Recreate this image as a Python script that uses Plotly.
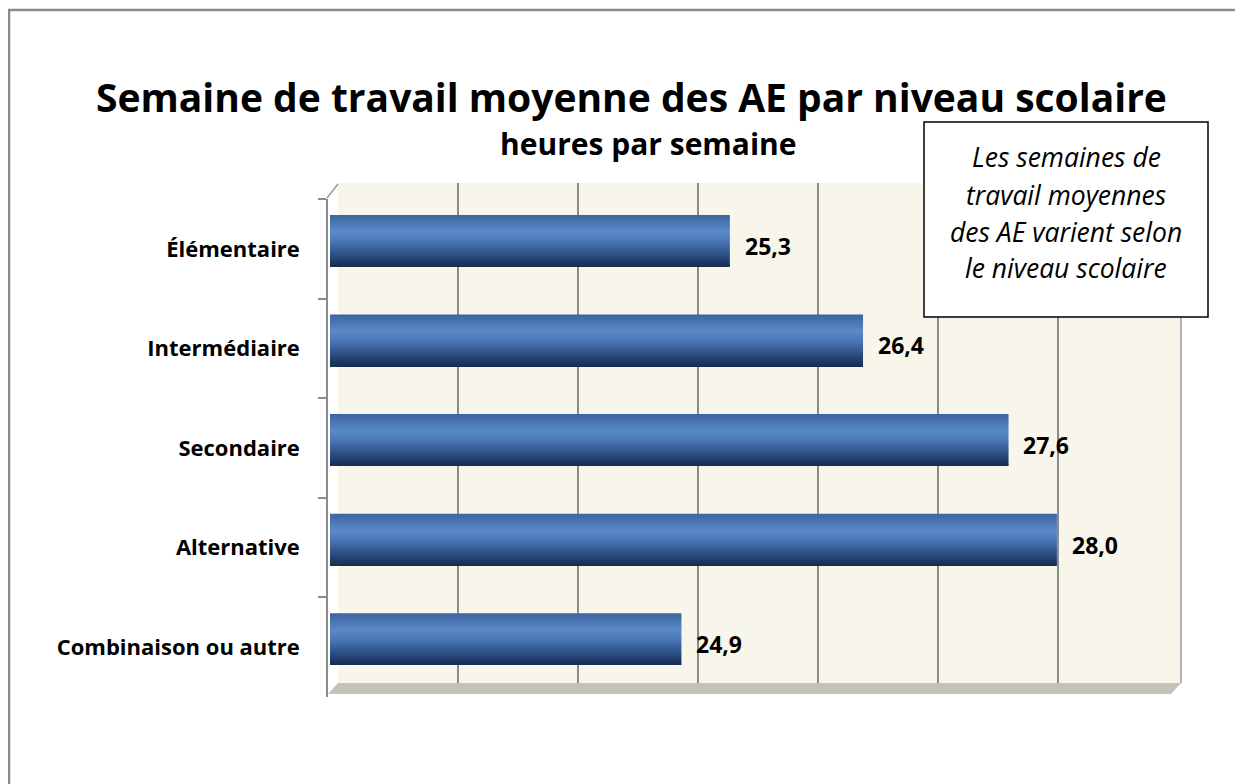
import plotly.graph_objects as go

# ---- data ----
categories = ["Élémentaire", "Intermédiaire", "Secondaire", "Alternative", "Combinaison ou autre"]
values = [25.3, 26.4, 27.6, 28.0, 24.9]
x_range = [22, 29]
title = "Semaine de travail moyenne des AE par niveau scolaire"
subtitle = "heures par semaine"
note_lines = ["Les semaines de", "travail moyennes", "des AE varient selon", "le niveau scolaire"]

# ---- style ----
W, H = 1243, 784
OFF = 8  # default page margin of the html body
FONT = "Open Sans"


def px(x):
    return (x - OFF) / W


def py(y):
    return 1 - (y - OFF) / H


stops = [
    (0.00, (60, 100, 158)),
    (0.12, (72, 114, 174)),
    (0.32, (90, 138, 200)),
    (0.50, (76, 120, 182)),
    (0.72, (50, 86, 142)),
    (0.88, (34, 62, 108)),
    (1.00, (24, 44, 80)),
]


def interp(t):
    for (t0, c0), (t1, c1) in zip(stops[:-1], stops[1:]):
        if t0 <= t <= t1:
            f = (t - t0) / (t1 - t0)
            c = [round(a + (b - a) * f) for a, b in zip(c0, c1)]
            return f"rgb({c[0]},{c[1]},{c[2]})"
    c = stops[-1][1]
    return f"rgb({c[0]},{c[1]},{c[2]})"


fig = go.Figure()

# grid (back wall) subplot
fig.add_trace(go.Scatter(x=[None], y=[None], xaxis="x", yaxis="y",
                         showlegend=False, hoverinfo="skip"))

# cylinder-like bars built from thin overlaid strips
N = 40
bar_w = 0.52
for i in range(N):
    t = (i + 0.5) / N
    fig.add_trace(go.Bar(
        x=values, y=categories, orientation="h",
        xaxis="x2", yaxis="y2",
        width=bar_w / N * 1.6 if i < N - 1 else bar_w / N,
        offset=-bar_w / 2 + i * bar_w / N,
        marker=dict(color=interp(t), line=dict(width=0)),
        showlegend=False, hoverinfo="skip",
    ))

# category axis (front edge of the 3-D box, slightly lower than the bars)
fig.add_trace(go.Scatter(x=[None] * len(categories), y=categories, xaxis="x2", yaxis="y3",
                         mode="markers", marker=dict(opacity=0),
                         showlegend=False, hoverinfo="skip"))

annotations = []
for cat, v in zip(categories, values):
    annotations.append(dict(
        x=v, y=cat, xref="x2", yref="y2",
        text=f"{v:.1f}".replace(".", ","),
        xanchor="left", yanchor="middle", xshift=13, yshift=-5,
        showarrow=False,
        font=dict(family=FONT, size=23, color="black", weight=700),
    ))

annotations.append(dict(
    x=px(631), y=py(96), xref="paper", yref="paper", text=title,
    showarrow=False, xanchor="center", yanchor="middle",
    font=dict(family=FONT, size=39, color="black", weight=700),
))
annotations.append(dict(
    x=px(648), y=py(143), xref="paper", yref="paper", text=subtitle,
    showarrow=False, xanchor="center", yanchor="middle",
    font=dict(family=FONT, size=30, color="black", weight=700),
))
for line, yy in zip(note_lines, [157, 195, 232, 268]):
    annotations.append(dict(
        x=px(1066), y=py(yy), xref="paper", yref="paper", text=line,
        showarrow=False, xanchor="center", yanchor="middle",
        font=dict(family=FONT, size=26.5, color="black", style="italic"),
    ))

shapes = [
    # back wall
    dict(type="rect", xref="paper", yref="paper", x0=px(338), x1=px(1181),
         y0=py(683), y1=py(183), fillcolor="#f8f6ea", line=dict(width=0), layer="below"),
    # floor
    dict(type="path", xref="paper", yref="paper",
         path=f"M {px(338)},{py(683)} L {px(1181)},{py(683)} L {px(1171)},{py(694)} L {px(328)},{py(694)} Z",
         fillcolor="#c4c1b9", line=dict(width=0), layer="below"),
    # right wall edge
    dict(type="line", xref="paper", yref="paper", x0=px(1181), x1=px(1181),
         y0=py(683), y1=py(183), line=dict(color="#b5b3ad", width=2), layer="below"),
    # left top diagonal
    dict(type="line", xref="paper", yref="paper", x0=px(327), x1=px(338),
         y0=py(198), y1=py(184), line=dict(color="#9a9a9a", width=1.5), layer="below"),
    # note box
    dict(type="rect", xref="paper", yref="paper", x0=px(924), x1=px(1208),
         y0=py(317), y1=py(122), fillcolor="white", line=dict(color="black", width=1.5),
         layer="above"),
    # outer frame (top and left)
    dict(type="path", xref="paper", yref="paper",
         path=f"M {px(9)},{py(800)} L {px(9)},{py(10)} L {px(1260)},{py(10)}",
         line=dict(color="#8a8a8a", width=2.5), layer="above"),
]

fig.update_layout(
    width=W, height=H,
    margin=dict(l=0, r=0, t=0, b=0),
    paper_bgcolor="white",
    plot_bgcolor="rgba(0,0,0,0)",
    barmode="overlay",
    showlegend=False,
    xaxis=dict(domain=[px(338), px(1178)], range=x_range, anchor="y",
               showgrid=True, gridcolor="#8c8c8c", gridwidth=1.5, dtick=1, tick0=22,
               showticklabels=False, ticks="", zeroline=False, showline=False, fixedrange=True),
    yaxis=dict(domain=[py(683), py(183)], range=[0, 1], visible=False, fixedrange=True),
    xaxis2=dict(domain=[px(330), px(1178)], range=x_range, anchor="y2", visible=False,
                fixedrange=True),
    yaxis2=dict(domain=[py(689), py(191)], anchor="free", position=px(327),
                type="category", categoryorder="array", categoryarray=categories,
                range=[4.5, -0.5], visible=False, fixedrange=True),
    yaxis3=dict(domain=[py(697), py(199)], anchor="free", position=px(327),
                type="category", categoryorder="array", categoryarray=categories,
                range=[4.5, -0.5], showline=True, linecolor="#8c8c8c", linewidth=1.5,
                ticks="outside", tickson="boundaries", ticklen=8, tickcolor="#8c8c8c",
                tickwidth=1.5, ticklabelstandoff=22,
                tickfont=dict(family=FONT, size=22, color="black", weight=700),
                showgrid=False, zeroline=False, fixedrange=True),
    annotations=annotations,
    shapes=shapes,
)

fig.write_html("out.html")
